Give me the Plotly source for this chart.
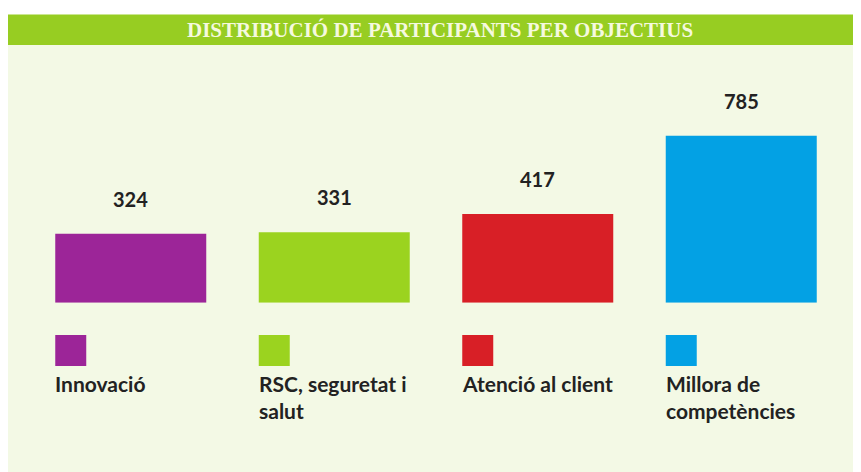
import plotly.graph_objects as go

# ---- data ----
categories = ["Innovació", "RSC, seguretat i salut", "Atenció al client", "Millora de competències"]
legend_labels = ["Innovació", "RSC, seguretat i<br>salut", "Atenció al client", "Millora de<br>competències"]
values = [324, 331, 417, 785]
colors = ["#9C2598", "#9BD31F", "#D81F26", "#03A1E4"]
title_text = "DISTRIBUCIÓ DE PARTICIPANTS PER OBJECTIUS"

# ---- layout constants (page pixels; the page body has an 8px margin) ----
WIN_W, WIN_H = 861, 472
OFF = 8
W, H = WIN_W - OFF, WIN_H - OFF


def fx(px):
    return (px - OFF) / W


def fy(py):
    return 1 - (py - OFF) / H


x_dom = [fx(29), fx(843)]
y_dom = [fy(302.7), fy(47)]
bar_frac = 0.742
cat_px = (x_dom[1] - x_dom[0]) * W / len(categories)
swatch = 31 / cat_px
y_px_per_unit = 0.2127
y_max = (302.7 - 47) / y_px_per_unit

fig = go.Figure(
    go.Bar(
        x=categories,
        y=values,
        width=bar_frac,
        marker=dict(color=colors, line=dict(width=0)),
        showlegend=False,
        hoverinfo="x+y",
    )
)

shapes = [
    # cream background
    dict(type="rect", xref="paper", yref="paper", x0=0, x1=1, y0=0, y1=fy(45),
         fillcolor="#F3F9E5", line=dict(width=0), layer="below"),
    # title band
    dict(type="rect", xref="paper", yref="paper", x0=0, x1=1, y0=fy(45), y1=fy(14.5),
         fillcolor="#97CD22", line=dict(width=0), layer="below"),
]

annotations = [
    dict(text=f"<b>{title_text}</b>", xref="paper", yref="paper", x=fx(440), y=fy(30),
         xanchor="center", yanchor="middle", showarrow=False,
         font=dict(family="Liberation Serif", size=21, color="#F5F9DF")),
]

for i, (cat, v) in enumerate(zip(categories, values)):
    annotations.append(dict(text=str(v), x=cat, y=v, xref="x", yref="y", showarrow=False,
                            yanchor="middle", yshift=35,
                            font=dict(family="Lato", size=20, color="#222222", weight="bold")))

for i, (lab, col) in enumerate(zip(legend_labels, colors)):
    x0 = i - bar_frac / 2
    shapes.append(dict(type="rect", xref="x", yref="paper", x0=x0, x1=x0 + swatch,
                       y0=fy(366), y1=fy(335), fillcolor=col, line=dict(width=0)))
    annotations.append(dict(text=lab, x=x0, y=fy(369), xref="x", yref="paper",
                            xanchor="left", yanchor="top", align="left", showarrow=False,
                            xshift=-2,
                            font=dict(family="Lato", size=21, color="#222222", weight="bold")))

fig.update_layout(
    width=W, height=H,
    margin=dict(l=0, r=0, t=0, b=0),
    paper_bgcolor="#FFFFFF",
    plot_bgcolor="rgba(0,0,0,0)",
    shapes=shapes,
    annotations=annotations,
    xaxis=dict(domain=x_dom, showticklabels=False, showgrid=False, zeroline=False,
               showline=False, ticks="", fixedrange=True),
    yaxis=dict(domain=y_dom, range=[0, y_max], showticklabels=False, showgrid=False,
               zeroline=False, showline=False, ticks="", fixedrange=True),
    bargap=1 - bar_frac,
)

fig.write_html("out.html")
